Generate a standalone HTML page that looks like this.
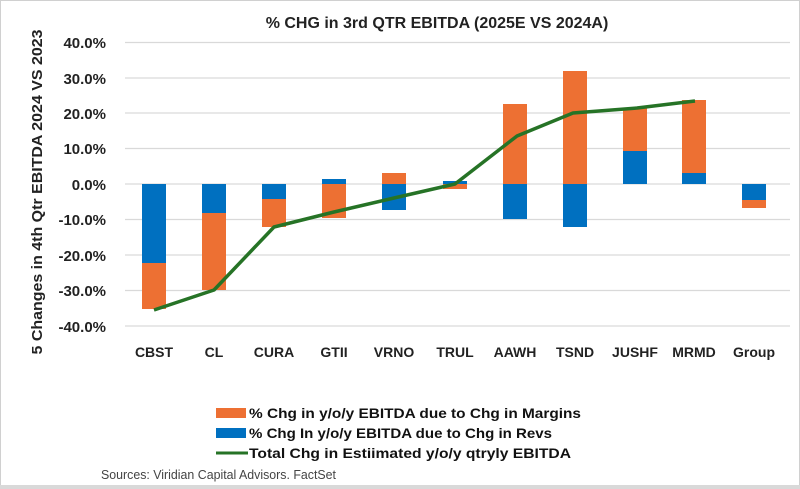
<!DOCTYPE html>
<html><head><meta charset="utf-8"><style>
html,body{margin:0;padding:0;background:#fff}
svg{display:block;font-family:"Liberation Sans",Arial,sans-serif}
</style></head><body>
<svg width="800" height="489" viewBox="0 0 800 489" xmlns="http://www.w3.org/2000/svg">
<rect x="0.5" y="0.5" width="799" height="488" fill="#fff" stroke="#d0d0d0"/>
<rect x="0" y="485" width="800" height="4" fill="#d9d9d9"/>
<text x="437" y="28" text-anchor="middle" font-size="16" font-weight="bold" fill="#222">% CHG in 3rd QTR EBITDA (2025E VS 2024A)</text>
<g stroke="#d9d9d9" stroke-width="1.3">
<line x1="125" x2="790" y1="42.5" y2="42.5"/><line x1="125" x2="790" y1="78" y2="78"/>
<line x1="125" x2="790" y1="113" y2="113"/><line x1="125" x2="790" y1="148.5" y2="148.5"/>
<line x1="125" x2="790" y1="184" y2="184"/><line x1="125" x2="790" y1="219.5" y2="219.5"/>
<line x1="125" x2="790" y1="255" y2="255"/><line x1="125" x2="790" y1="290.5" y2="290.5"/>
<line x1="125" x2="790" y1="326" y2="326"/>
</g>
<g font-size="15" font-weight="bold" fill="#222" text-anchor="end">
<text x="106" y="48">40.0%</text><text x="106" y="84">30.0%</text><text x="106" y="119">20.0%</text>
<text x="106" y="154">10.0%</text><text x="106" y="190">0.0%</text><text x="106" y="225">-10.0%</text>
<text x="106" y="261">-20.0%</text><text x="106" y="296">-30.0%</text><text x="106" y="332">-40.0%</text>
</g>
<text transform="translate(42,192) rotate(-90)" text-anchor="middle" font-size="15" font-weight="bold" fill="#222" textLength="325" lengthAdjust="spacingAndGlyphs">5 Changes in 4th Qtr  EBITDA 2024 VS 2023</text>
<g fill="#0070c0">
<rect x="142" y="184" width="24" height="79"/>
<rect x="202" y="184" width="24" height="29"/>
<rect x="262" y="184" width="24" height="15"/>
<rect x="322" y="179" width="24" height="5"/>
<rect x="382" y="184" width="24" height="26"/>
<rect x="443" y="181" width="24" height="3"/>
<rect x="503" y="184" width="24" height="35"/>
<rect x="563" y="184" width="24" height="43"/>
<rect x="623" y="151" width="24" height="33"/>
<rect x="682" y="173" width="24" height="11"/>
<rect x="742" y="184" width="24" height="16"/>
</g>
<g fill="#ed7033">
<rect x="142" y="263" width="24" height="46"/>
<rect x="202" y="213" width="24" height="77"/>
<rect x="262" y="199" width="24" height="28"/>
<rect x="322" y="184" width="24" height="34"/>
<rect x="382" y="173" width="24" height="11"/>
<rect x="443" y="184" width="24" height="5"/>
<rect x="503" y="104" width="24" height="80"/>
<rect x="563" y="71" width="24" height="113"/>
<rect x="623" y="108" width="24" height="43"/>
<rect x="682" y="100" width="24" height="73"/>
<rect x="742" y="200" width="24" height="8"/>
</g>
<polyline fill="none" stroke="#267326" stroke-width="3.5" stroke-linejoin="round" points="154,310 214,290 274,227 334,212 394,198 455,184 517,136 573,113 637,108 695,101"/>
<g font-size="14" font-weight="bold" fill="#222" text-anchor="middle">
<text x="154" y="357">CBST</text><text x="214" y="357">CL</text><text x="274" y="357">CURA</text>
<text x="334" y="357">GTII</text><text x="394" y="357">VRNO</text><text x="455" y="357">TRUL</text>
<text x="515" y="357">AAWH</text><text x="575" y="357">TSND</text><text x="635" y="357">JUSHF</text>
<text x="694" y="357">MRMD</text><text x="754" y="357">Group</text>
</g>
<rect x="216" y="408" width="30" height="10" fill="#ed7033"/>
<rect x="216" y="428" width="30" height="10" fill="#0070c0"/>
<line x1="216" x2="248" y1="453" y2="453" stroke="#267326" stroke-width="3"/>
<g font-size="14" font-weight="bold" fill="#111">
<text x="249" y="418" textLength="332" lengthAdjust="spacingAndGlyphs">% Chg in y/o/y EBITDA due to Chg in Margins</text>
<text x="249" y="438" textLength="303" lengthAdjust="spacingAndGlyphs">% Chg In y/o/y EBITDA due to Chg in Revs</text>
<text x="249" y="458" textLength="322" lengthAdjust="spacingAndGlyphs">Total Chg in Estiimated y/o/y qtryly  EBITDA</text>
</g>
<text x="101" y="479" font-size="13" fill="#444" textLength="235" lengthAdjust="spacingAndGlyphs">Sources: Viridian Capital Advisors. FactSet</text>
</svg>
</body></html>
